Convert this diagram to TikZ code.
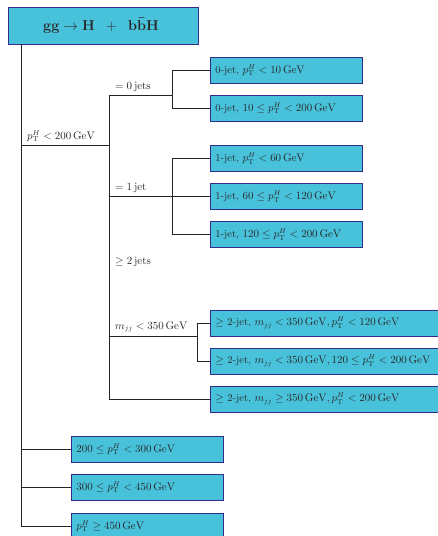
\documentclass[tikz,border=0pt]{standalone}
\usepackage{amsmath}
\definecolor{boxfill}{RGB}{72,194,218}
\definecolor{boxdraw}{RGB}{50,45,140}
\definecolor{linec}{RGB}{35,35,35}
\definecolor{textc}{RGB}{40,40,40}
\tikzset{
  catbox/.style={draw=boxdraw,fill=boxfill,line width=0.9pt,anchor=west,minimum height=26pt,inner xsep=5pt,inner ysep=0pt,text width=142pt,align=left,text=textc,font=\fontsize{10.5}{12}\selectfont},
  widebox/.style={catbox,text width=222pt},
  titlebox/.style={draw=boxdraw,fill=boxfill,line width=0.9pt,minimum width=190pt,minimum height=37pt,inner sep=0pt,text=textc,font=\Large},
  conn/.style={draw=linec,line width=1pt},
  lab/.style={anchor=west,inner sep=0pt,text=textc,font=\fontsize{10.5}{12}\selectfont}
}
\begin{document}
\begin{tikzpicture}[x=1pt,y=-1pt]
\useasboundingbox (0,0) rectangle (437,536);
% top box
\node[titlebox] (ttl) at (103,25.5) {\hspace*{-4pt}$\mathbf{gg} \rightarrow \mathbf{H}\;\;+\;\;\mathbf{b\bar{b}H}$};
% boxes
\node[catbox] (j0a) at (210,70) {0-jet, $p_{\mathrm{T}}^{H} < 10\,\mathrm{GeV}$};
\node[catbox] (j0b) at (210,108) {0-jet, $10 \leq p_{\mathrm{T}}^{H} < 200\,\mathrm{GeV}$};
\node[catbox] (j1a) at (210,158.5) {1-jet, $p_{\mathrm{T}}^{H} < 60\,\mathrm{GeV}$};
\node[catbox] (j1b) at (210,196.5) {1-jet, $60 \leq p_{\mathrm{T}}^{H} < 120\,\mathrm{GeV}$};
\node[catbox] (j1c) at (210,234.5) {1-jet, $120 \leq p_{\mathrm{T}}^{H} < 200\,\mathrm{GeV}$};
\node[widebox] (j2a) at (210,323) {$\geq$ 2-jet, $m_{jj} < 350\,\mathrm{GeV}, p_{\mathrm{T}}^{H} < 120\,\mathrm{GeV}$};
\node[widebox] (j2b) at (210,361) {$\geq$ 2-jet, $m_{jj} < 350\,\mathrm{GeV}, 120 \leq p_{\mathrm{T}}^{H} < 200\,\mathrm{GeV}$};
\node[widebox] (j2c) at (210,399) {$\geq$ 2-jet, $m_{jj} \geq 350\,\mathrm{GeV}, p_{\mathrm{T}}^{H} < 200\,\mathrm{GeV}$};
\node[catbox] (h1) at (71,449) {$200 \leq p_{\mathrm{T}}^{H} < 300\,\mathrm{GeV}$};
\node[catbox] (h2) at (71,487) {$300 \leq p_{\mathrm{T}}^{H} < 450\,\mathrm{GeV}$};
\node[catbox] (h3) at (71,526) {$p_{\mathrm{T}}^{H} \geq 450\,\mathrm{GeV}$};
% junction coordinates
\coordinate (t0) at (21,44);
\coordinate (t1) at (21,526);
\coordinate (a) at (21,145);
\coordinate (b) at (109,145);
\coordinate (b0) at (109,95);
\coordinate (b1) at (109,196.5);
\coordinate (b2) at (109,336);
\coordinate (b3) at (109,399);
\coordinate (c0) at (172,95);
\coordinate (c1) at (172,196.5);
\coordinate (c2) at (197,336);
% trunks
\draw[conn] (t0) -- (t1);
\draw[conn] (a) -- (b);
\draw[conn] (b0) -- (b3);
\draw[conn] (b0) -- (c0);
\draw[conn] (j0a.west -| c0) -- (j0b.west -| c0);
\draw[conn] (j0a.west -| c0) -- (j0a.west);
\draw[conn] (j0b.west -| c0) -- (j0b.west);
\draw[conn] (b1) -- (c1);
\draw[conn] (j1a.west -| c1) -- (j1c.west -| c1);
\draw[conn] (j1a.west -| c1) -- (j1a.west);
\draw[conn] (c1) -- (j1b.west);
\draw[conn] (j1c.west -| c1) -- (j1c.west);
\draw[conn] (b2) -- (c2);
\draw[conn] (j2a.west -| c2) -- (j2b.west -| c2);
\draw[conn] (j2a.west -| c2) -- (j2a.west);
\draw[conn] (j2b.west -| c2) -- (j2b.west);
\draw[conn] (b3) -- (j2c.west);
\draw[conn] (h1.west -| t0) -- (h1.west);
\draw[conn] (h2.west -| t0) -- (h2.west);
\draw[conn] (t1) -- (h3.west);
% labels
\node[lab] (l0) at (27,136) {$p_{\mathrm{T}}^{H} < 200\,\mathrm{GeV}$};
\node[lab] (l1) at (115,87) {$=0\,\mathrm{jets}$};
\node[lab] (l2) at (115,188) {$=1\,\mathrm{jet}$};
\node[lab] (l3) at (115,262) {$\geq 2\,\mathrm{jets}$};
\node[lab] (l4) at (115,327) {$m_{jj} < 350\,\mathrm{GeV}$};
\end{tikzpicture}
\end{document}
